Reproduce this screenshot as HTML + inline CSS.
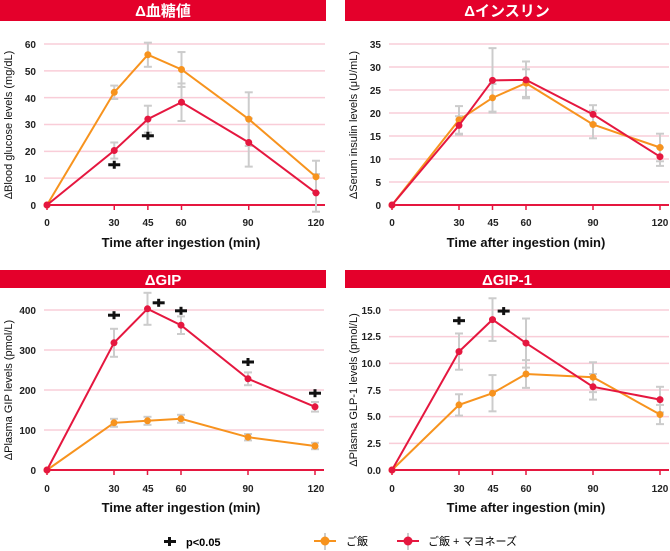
<!DOCTYPE html>
<html><head><meta charset="utf-8"><style>
body{margin:0;background:#fff;width:670px;height:551px;overflow:hidden}
svg{display:block;font-family:"Liberation Sans","Noto Sans CJK JP",sans-serif}
.hd{font-size:15px;fill:#fff;font-weight:bold}
.tk{font-size:10px;fill:#222;font-weight:bold}
.ax{font-size:13px;fill:#111;font-weight:bold}
.yt{font-size:11px;fill:#111}
</style></head><body>
<svg id="s" width="670" height="551" xmlns="http://www.w3.org/2000/svg">
<rect x="0" y="0" width="326" height="21" fill="#e4002b"/>
<rect x="345" y="0" width="325" height="21" fill="#e4002b"/>
<rect x="0" y="270" width="326" height="18" fill="#e4002b"/>
<rect x="345" y="270" width="325" height="18" fill="#e4002b"/>
<text class="hd" x="163" y="16" text-anchor="middle">Δ血糖値</text>
<text class="hd" x="507" y="16" text-anchor="middle">Δインスリン</text>
<text class="hd" x="163" y="285" text-anchor="middle">ΔGIP</text>
<text class="hd" x="507" y="285" text-anchor="middle">ΔGIP-1</text>
<g id="grid"></g>
<g class="tk" text-anchor="end">
<text x="36" y="209">0</text><text x="36" y="182">10</text><text x="36" y="155">20</text><text x="36" y="128">30</text><text x="36" y="102">40</text><text x="36" y="75">50</text><text x="36" y="48">60</text>
<text x="381" y="209">0</text><text x="381" y="186">5</text><text x="381" y="163">10</text><text x="381" y="140">15</text><text x="381" y="117">20</text><text x="381" y="94">25</text><text x="381" y="71">30</text><text x="381" y="48">35</text>
<text x="36" y="474">0</text><text x="36" y="434">100</text><text x="36" y="394">200</text><text x="36" y="354">300</text><text x="36" y="314">400</text>
<text x="381" y="474">0.0</text><text x="381" y="447">2.5</text><text x="381" y="420">5.0</text><text x="381" y="394">7.5</text><text x="381" y="367">10.0</text><text x="381" y="340">12.5</text><text x="381" y="314">15.0</text>
</g>
<g class="tk" text-anchor="middle">
<text x="47" y="226">0</text><text x="114" y="226">30</text><text x="148" y="226">45</text><text x="181" y="226">60</text><text x="248" y="226">90</text><text x="316" y="226">120</text>
<text x="392" y="226">0</text><text x="459" y="226">30</text><text x="493" y="226">45</text><text x="526" y="226">60</text><text x="593" y="226">90</text><text x="660" y="226">120</text>
<text x="47" y="492">0</text><text x="114" y="492">30</text><text x="148" y="492">45</text><text x="181" y="492">60</text><text x="248" y="492">90</text><text x="316" y="492">120</text>
<text x="392" y="492">0</text><text x="459" y="492">30</text><text x="493" y="492">45</text><text x="526" y="492">60</text><text x="593" y="492">90</text><text x="660" y="492">120</text>
</g>
<g class="ax" text-anchor="middle">
<text x="181" y="247">Time after ingestion (min)</text><text x="526" y="247">Time after ingestion (min)</text>
<text x="181" y="512">Time after ingestion (min)</text><text x="526" y="512">Time after ingestion (min)</text>
</g>
<g class="yt" text-anchor="middle">
<text transform="translate(12,125) rotate(-90)">ΔBlood glucose levels (mg/dL)</text>
<text transform="translate(357,125) rotate(-90)">ΔSerum insulin levels (μU/mL)</text>
<text transform="translate(12,390) rotate(-90)">ΔPlasma GIP levels (pmol/L)</text>
<text transform="translate(357,390) rotate(-90)">ΔPlasma GLP-1 levels (pmol/L)</text>
</g>
<g id="data"></g>
<g id="leg">
<rect x="164" y="540" width="12" height="3" fill="#111"/><rect x="168" y="537" width="3" height="9" fill="#111"/>
<text x="186" y="546" style="font-size:11px;font-weight:bold">p&lt;0.05</text>
<line x1="325" y1="533" x2="325" y2="550" stroke="#ccc" stroke-width="2"/>
<line x1="314" y1="541" x2="336" y2="541" stroke="#f7931e" stroke-width="2"/>
<circle cx="325" cy="541" r="4.5" fill="#f7931e"/>
<text x="346" y="545" style="font-size:11px">ご飯</text>
<line x1="408" y1="533" x2="408" y2="550" stroke="#ccc" stroke-width="2"/>
<line x1="397" y1="541" x2="419" y2="541" stroke="#e5173f" stroke-width="2"/>
<circle cx="408" cy="541" r="4.5" fill="#e5173f"/>
<text x="428" y="545" style="font-size:11px">ご飯 + マヨネーズ</text>
</g>
</svg>
<script>
var NS="http://www.w3.org/2000/svg",g=document.getElementById('grid'),d=document.getElementById('data');
function el(p,t,a){var e=document.createElementNS(NS,t);for(var k in a)e.setAttribute(k,a[k]);p.appendChild(e);return e}
var T=[0,30,45,60,90,120];
var P=[
{x0:47,x1:316,y0:205,ymax:60,yTop:44,step:10,
o:[0,42,56,50.5,32,10.5],oe:[0,2.5,4.5,6.5,10,6],r:[0,20.3,32,38.3,23.3,4.5],re:[0,3,5,7,9,7],m:[[30,15],[45,25.8]]},
{x0:392,x1:660,y0:205,ymax:35,yTop:44,step:5,
o:[0,18.5,23.3,26.5,17.5,12.5],oe:[0,3,3,3,3,3],r:[0,17.3,27.1,27.2,19.7,10.5],re:[0,2,7,4,2,2],m:[]},
{x0:47,x1:315,y0:470,ymax:400,yTop:310,step:100,
o:[0,118,123,128,82,60],oe:[0,10,10,10,8,8],r:[0,318,403,362,228,158],re:[0,35,40,22,16,12],m:[[30,387],[50,418],[60,398],[90,270],[120,192]]},
{x0:392,x1:660,y0:470,ymax:15,yTop:310,step:2.5,
o:[0,6.1,7.2,9.0,8.7,5.2],oe:[0,1,1.7,1.3,1.4,0.9],r:[0,11.1,14.1,11.9,7.8,6.6],re:[0,1.7,2,2.3,1.2,1.2],m:[[30,14],[50,14.9]]}];
P.forEach(function(p){
 var X=function(t){return p.x0+(p.x1-p.x0)*t/120},Y=function(v){return p.y0-(p.y0-p.yTop)*v/p.ymax};
 for(var v=p.step;v<=p.ymax+1e-9;v+=p.step)el(g,'line',{x1:p.x0-3,x2:p.x1+9,y1:Y(v),y2:Y(v),stroke:'#f9cdd8','stroke-width':1.5});
 el(g,'line',{x1:p.x0-3,x2:p.x1+9,y1:p.y0,y2:p.y0,stroke:'#e5173f','stroke-width':2});
 T.forEach(function(t){el(g,'line',{x1:X(t),x2:X(t),y1:p.y0,y2:p.y0+5,stroke:'#e5173f','stroke-width':1.5})});
 [['o','oe','#f7931e'],['r','re','#e5173f']].forEach(function(s){
  var v=p[s[0]],e=p[s[1]];
  T.forEach(function(t,i){if(!e[i])return;var x=X(t);
   el(d,'line',{x1:x,x2:x,y1:Y(v[i]-e[i]),y2:Y(v[i]+e[i]),stroke:'#ccc','stroke-width':2});
   el(d,'line',{x1:x-4,x2:x+4,y1:Y(v[i]-e[i]),y2:Y(v[i]-e[i]),stroke:'#ccc','stroke-width':2});
   el(d,'line',{x1:x-4,x2:x+4,y1:Y(v[i]+e[i]),y2:Y(v[i]+e[i]),stroke:'#ccc','stroke-width':2});});
 });
 [['o','#f7931e'],['r','#e5173f']].forEach(function(s){
  var v=p[s[0]];
  el(d,'polyline',{points:T.map(function(t,i){return X(t)+','+Y(v[i])}).join(' '),fill:'none',stroke:s[1],'stroke-width':2});
  T.forEach(function(t,i){el(d,'circle',{cx:X(t),cy:Y(v[i]),r:3.5,fill:s[1]})});
 });
 p.m.forEach(function(m){var x=X(m[0]),y=Y(m[1]);
  el(d,'rect',{x:x-6,y:y-1.5,width:12,height:3,fill:'#111'});el(d,'rect',{x:x-1.5,y:y-4,width:3,height:8,fill:'#111'});});
});
</script>
</body></html>
